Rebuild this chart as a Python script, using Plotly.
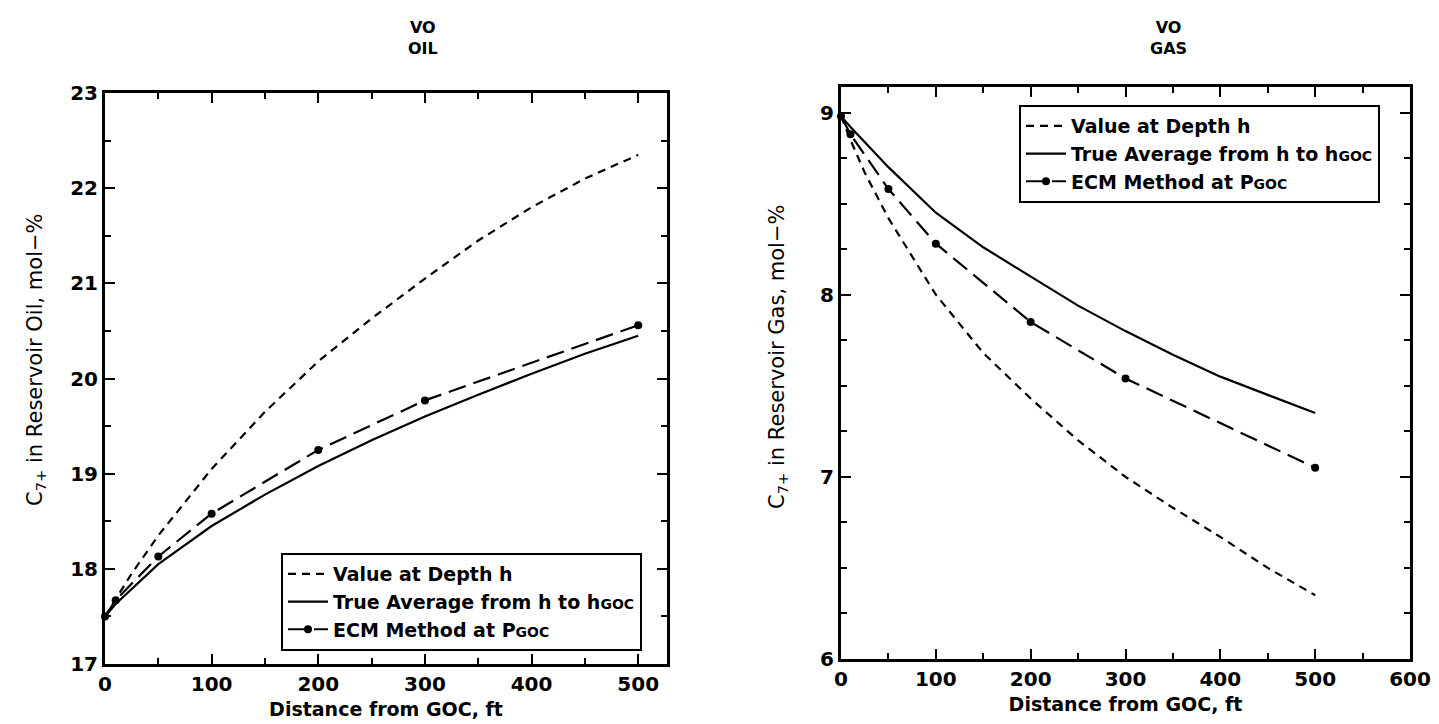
import plotly.graph_objects as go

# ---------------- data ----------------
# OIL panel
oil_depth_x = [0, 10, 25, 50, 100, 150, 200, 250, 300, 350, 400, 450, 500]
oil_depth_y = [17.5, 17.68, 17.95, 18.35, 19.05, 19.65, 20.18, 20.63, 21.05, 21.45, 21.8, 22.1, 22.35]
oil_true_x = [0, 10, 50, 100, 150, 200, 250, 300, 350, 400, 450, 500]
oil_true_y = [17.5, 17.63, 18.05, 18.45, 18.78, 19.08, 19.35, 19.6, 19.83, 20.05, 20.26, 20.45]
oil_ecm_x = [0, 10, 50, 100, 200, 300, 500]
oil_ecm_y = [17.5, 17.67, 18.13, 18.58, 19.25, 19.77, 20.56]

# GAS panel
gas_depth_x = [0, 10, 25, 50, 100, 150, 200, 250, 300, 350, 400, 450, 500]
gas_depth_y = [8.98, 8.85, 8.67, 8.42, 8.0, 7.68, 7.43, 7.2, 7.0, 6.83, 6.67, 6.5, 6.35]
gas_true_x = [0, 10, 50, 100, 150, 200, 250, 300, 350, 400, 450, 500]
gas_true_y = [8.98, 8.92, 8.7, 8.45, 8.26, 8.1, 7.94, 7.8, 7.67, 7.55, 7.45, 7.35]
gas_ecm_x = [0, 10, 50, 100, 200, 300, 500]
gas_ecm_y = [8.98, 8.88, 8.58, 8.28, 7.85, 7.54, 7.05]

legend_names = ["Value at Depth h",
                "True Average from h to h<span style='font-size:14px'>GOC</span>",
                "ECM Method at P<span style='font-size:14px'>GOC</span>"]
x_title = "Distance from GOC, ft"
y_title_oil = "C<sub>7+</sub> in Reservoir Oil, mol−%"
y_title_gas = "C<sub>7+</sub> in Reservoir Gas, mol−%"
panel_titles = ["VO<br>OIL", "VO<br>GAS"]

FONT = "DejaVu Sans"
W, H = 1439, 724

fig = go.Figure()

def add_panel(xa, ya, leg, dx, dy, tx, ty, ex, ey):
    fig.add_trace(go.Scatter(x=dx, y=dy, mode="lines", name=legend_names[0],
                             line=dict(color="black", width=2.2, dash="8px,6px"),
                             xaxis=xa, yaxis=ya, legend=leg, cliponaxis=False))
    fig.add_trace(go.Scatter(x=tx, y=ty, mode="lines", name=legend_names[1],
                             line=dict(color="black", width=2.2),
                             xaxis=xa, yaxis=ya, legend=leg, cliponaxis=False))
    fig.add_trace(go.Scatter(x=ex, y=ey, mode="lines+markers", name=legend_names[2],
                             line=dict(color="black", width=2.2, dash="18px,8px"),
                             marker=dict(color="black", size=8),
                             xaxis=xa, yaxis=ya, legend=leg, cliponaxis=False))

add_panel("x", "y", "legend", oil_depth_x, oil_depth_y, oil_true_x, oil_true_y, oil_ecm_x, oil_ecm_y)
add_panel("x2", "y2", "legend2", gas_depth_x, gas_depth_y, gas_true_x, gas_true_y, gas_ecm_x, gas_ecm_y)

def px_x(p):
    return p / W

def px_y(p):
    return 1 - p / H

tickfont = dict(family=FONT, size=20, color="black", weight="bold")
titlefont = dict(family=FONT, size=19, color="black", weight="bold")
axis_common = dict(showline=True, linecolor="black", linewidth=3, mirror="allticks",
                   ticks="inside", ticklen=10, tickwidth=2, tickcolor="black",
                   showgrid=False, zeroline=False, automargin=False,
                   tickfont=tickfont)
minor_common = dict(ticks="inside", ticklen=6, tickwidth=2, tickcolor="black")

fig.update_layout(
    width=W, height=H, margin=dict(l=0, r=0, t=0, b=0, autoexpand=False),
    paper_bgcolor="white", plot_bgcolor="white",
    font=dict(family=FONT, color="black"),
    xaxis=dict(domain=[px_x(97), px_x(659)], range=[0, 527], dtick=100, tick0=0,
               minor=dict(dtick=50, **minor_common),
               title=dict(text=x_title, font=titlefont, standoff=8),
               anchor="y", **axis_common),
    yaxis=dict(domain=[px_y(656), px_y(85)], range=[17, 23], dtick=1, tick0=17,
               minor=dict(dtick=0.5, **minor_common),
               anchor="x", **axis_common),
    xaxis2=dict(domain=[px_x(833), px_x(1402)], range=[0, 600], dtick=100, tick0=0,
                minor=dict(dtick=50, **minor_common),
                title=dict(text=x_title, font=titlefont, standoff=8),
                anchor="y2", **axis_common),
    yaxis2=dict(domain=[px_y(651), px_y(79)], range=[6, 9.14], dtick=1, tick0=6,
                minor=dict(dtick=0.25, **minor_common),
                anchor="x2", **axis_common),
    legend=dict(x=px_x(273), y=px_y(545), xanchor="left", yanchor="top",
                bordercolor="black", borderwidth=2, bgcolor="white",
                font=dict(family=FONT, size=19, color="black", weight="bold"),
                tracegroupgap=0, itemwidth=40),
    legend2=dict(x=px_x(1011), y=px_y(97), xanchor="left", yanchor="top",
                 bordercolor="black", borderwidth=2, bgcolor="white",
                 font=dict(family=FONT, size=19, color="black", weight="bold"),
                 tracegroupgap=0, itemwidth=40),
    showlegend=True,
)

for txt, xp in zip(panel_titles, [415, 1160]):
    fig.add_annotation(text=txt, x=px_x(xp), y=px_y(8), xref="paper", yref="paper",
                       xanchor="center", yanchor="top", showarrow=False,
                       font=dict(family=FONT, size=16, color="black", weight="bold"))

# rotated y-axis titles
for txt, xp, yp in [(y_title_oil, 28, 352), (y_title_gas, 770, 349)]:
    fig.add_annotation(text=txt, x=px_x(xp), y=px_y(yp), xref="paper", yref="paper",
                       xanchor="center", yanchor="middle", showarrow=False, textangle=-90,
                       font=dict(family=FONT, size=21, color="black"))

fig.write_html("out.html")
